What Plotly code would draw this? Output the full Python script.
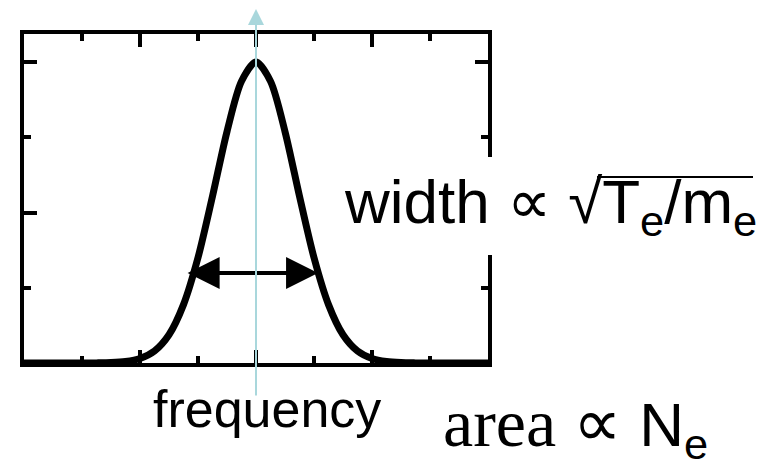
import plotly.graph_objects as go

# Spectrum profile (frequency in tick units, intensity normalised to peak)
freq = [-4.0, -3.5, -3.0, -2.75, -2.5, -2.25, -2.0, -1.75, -1.5, -1.25, -1.0, -0.75, -0.5, -0.25,
        0.0, 0.25, 0.5, 0.75, 1.0, 1.25, 1.5, 1.75, 2.0, 2.25, 2.5, 2.75, 3.0, 3.5, 4.0]
intensity = [0.0, 0.0, 0.0001, 0.0004, 0.0014, 0.005, 0.015, 0.040, 0.094, 0.194, 0.350, 0.554, 0.769, 0.936,
             1.0, 0.936, 0.769, 0.554, 0.350, 0.194, 0.094, 0.040, 0.015, 0.005, 0.0014, 0.0004, 0.0001, 0.0, 0.0]

width_label = "width ∝ √T<sub>e</sub>/m<sub>e</sub>"
freq_label = "frequency"
area_label = "area ∝ <span style='font-family:\"Liberation Sans\";font-size:62px'>N<sub>e</sub></span>"

CYAN = "#a9d7dc"

def px_x(p):  # window pixel -> paper x
    return (p - 24) / 464

def px_y(p):  # window pixel -> paper y
    return (363 - p) / 329

fig = go.Figure()
fig.add_trace(go.Scatter(
    x=freq, y=intensity, mode="lines",
    line=dict(color="black", width=7, shape="spline", smoothing=0.8),
    hoverinfo="skip", showlegend=False,
))

axis_common = dict(
    showline=True, linewidth=4, linecolor="black", mirror="ticks",
    ticks="inside", ticklen=13, tickwidth=3.5, tickcolor="black",
    showticklabels=False, showgrid=False, zeroline=False,
)
fig.update_xaxes(range=[-4, 4], tick0=0, dtick=2,
                 minor=dict(dtick=1, ticks="inside", ticklen=7, tickwidth=3.5,
                            tickcolor="black", showgrid=False),
                 **axis_common)
fig.update_yaxes(range=[0, 1.093], tick0=0, dtick=0.5,
                 minor=dict(dtick=0.25, ticks="inside", ticklen=7, tickwidth=3.5,
                            tickcolor="black", showgrid=False),
                 **axis_common)

annotations = [
    # width double-arrow
    dict(x=1.07, y=0.299, ax=-1.205, ay=0.299, xref="x", yref="y", axref="x", ayref="y",
         text="", showarrow=True, arrowside="end+start", arrowhead=2, startarrowhead=2,
         arrowsize=1.6, startarrowsize=1.6, arrowwidth=4, arrowcolor="black"),
    # cyan frequency arrow
    dict(x=0, y=px_y(5), ax=0, ay=392, xref="x", yref="paper",
         text="", showarrow=True, arrowhead=2, arrowsize=1.6, arrowwidth=2, arrowcolor=CYAN),
    # width label on a white box (hides part of the right frame)
    dict(x=px_x(344), y=px_y(206), xref="paper", yref="paper", xanchor="left", yanchor="middle",
         text=width_label, showarrow=False, width=418, height=98, align="left", valign="middle",
         bgcolor="white", borderpad=0, borderwidth=0,
         font=dict(family="Liberation Sans, Arial", size=62, color="black")),
    # overline of the square root
    dict(x=px_x(597), y=px_y(177), xref="paper", yref="paper", xanchor="left", yanchor="middle",
         text=" ", showarrow=False, width=156, height=2, bgcolor="black", borderpad=0, borderwidth=0,
         font=dict(size=2)),
    dict(x=px_x(153), y=-0.052, xref="paper", yref="paper", xanchor="left", yanchor="top",
         text=freq_label, showarrow=False, borderpad=0, borderwidth=0,
         font=dict(family="Liberation Sans, Arial", size=52, color="black")),
    dict(x=0.903, y=-0.068, xref="paper", yref="paper", xanchor="left", yanchor="top",
         text=area_label, showarrow=False, borderpad=0, borderwidth=0,
         font=dict(family="Liberation Serif, Times New Roman, serif", size=68, color="black")),
]

# the page body has an 8px offset, so the margins are shifted to keep the frame where it belongs
fig.update_layout(
    width=766, height=460,
    margin=dict(l=16, r=286, t=26, b=105, pad=0),
    paper_bgcolor="white", plot_bgcolor="white",
    showlegend=False,
    annotations=annotations,
)

fig.write_html("out.html")
